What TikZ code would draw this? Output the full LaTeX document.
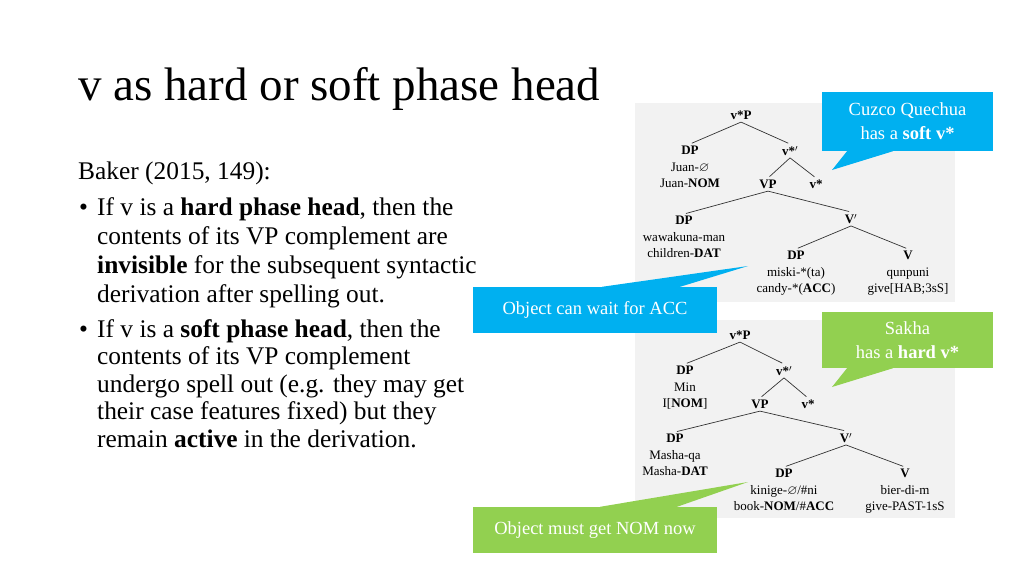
\documentclass[tikz,border=0pt]{standalone}
\usepackage{fontspec}
\setmainfont{Liberation Serif}
\usepackage{amssymb}
\usetikzlibrary{positioning}
\definecolor{noteblue}{HTML}{00B0F0}
\definecolor{notegreen}{HTML}{92D050}
\definecolor{panelgray}{HTML}{F2F2F2}
\newcommand{\nullmark}{\ensuremath{\varnothing}}
\tikzset{
	treelabel/.style={font=\fontsize{13}{16.5}\selectfont, align=center, inner sep=2pt, anchor=north},
	treeedge/.style={line width=0.7pt, color=black!80, shorten >=2pt},
	bodytext/.style={font=\fontsize{25.4}{29}\selectfont, align=left, inner sep=0pt, anchor=base west},
	notebox/.style={font=\fontsize{18.5}{24}\selectfont, text=white, align=center, inner sep=0pt}
}

\begin{document}
\begin{tikzpicture}[x=1pt,y=-1pt]
	\useasboundingbox (0,0) rectangle (1024,576);
	% title and text (multi-line nodes sit on their last baseline)
	\node[font=\fontsize{47}{56}\selectfont, inner sep=0pt, anchor=base west] (title) at (78,100) {v as hard or soft phase head};
	\node[bodytext] (baker) at (78,179) {Baker (2015, 149):};
	\node[bodytext] (dotA) at (79,215) {•};
	\node[bodytext] (pointA) at (97,302) {If v is a \textbf{hard phase head}, then the\\contents of its VP complement are\\\textbf{invisible} for the subsequent syntactic\\derivation after spelling out.};
	\node[bodytext] (dotB) at (79,337) {•};
	\node[bodytext, font=\fontsize{25.4}{27.5}\selectfont] (pointB) at (97,447) {If v is a \textbf{soft phase head}, then the\\contents of its VP complement\\undergo spell out (e.g. they may get\\their case features fixed) but they\\remain \textbf{active} in the derivation.};

	% panels
	\fill[panelgray] (635,103) rectangle (955,302);
	\fill[panelgray] (635,320) rectangle (955,518);

	% Cuzco Quechua tree
	\node[treelabel] (rootA) at (741,109) {\textbf{v*P}};
	\node[treelabel] (specA) at (690,144) {\textbf{DP}\\Juan-\nullmark\\Juan-\textbf{NOM}};
	\node[treelabel] (vbarA) at (790,144) {\textbf{v*}$'$};
	\node[treelabel] (vpA) at (768,178) {\textbf{VP}};
	\node[treelabel] (vheadA) at (816,178) {\textbf{v*}};
	\node[treelabel] (datA) at (684,214) {\textbf{DP}\\wawakuna-man\\children-\textbf{DAT}};
	\node[treelabel] (vcompA) at (851,212) {\textbf{V}$'$};
	\node[treelabel] (objA) at (796,249) {\textbf{DP}\\miski-*(ta)\\candy-*(\textbf{ACC})};
	\node[treelabel] (verbA) at (908,249) {\textbf{V}\\qunpuni\\give[HAB;3sS]};
	\draw[treeedge] (rootA.south) -- (specA.north);
	\draw[treeedge] (rootA.south) -- (vbarA.north);
	\draw[treeedge] (vbarA.south) -- (vpA.north);
	\draw[treeedge] (vbarA.south) -- (vheadA.north);
	\draw[treeedge] (vpA.south) -- (datA.north);
	\draw[treeedge] (vpA.south) -- (vcompA.north);
	\draw[treeedge] (vcompA.south) -- (objA.north);
	\draw[treeedge] (vcompA.south) -- (verbA.north);

	% Sakha tree
	\node[treelabel] (rootB) at (740,329) {\textbf{v*P}};
	\node[treelabel] (specB) at (685,364) {\textbf{DP}\\Min\\I[\textbf{NOM}]};
	\node[treelabel] (vbarB) at (784,364) {\textbf{v*}$'$};
	\node[treelabel] (vpB) at (760,398) {\textbf{VP}};
	\node[treelabel] (vheadB) at (808,398) {\textbf{v*}};
	\node[treelabel] (datB) at (675,432) {\textbf{DP}\\Masha-qa\\Masha-\textbf{DAT}};
	\node[treelabel] (vcompB) at (846,431) {\textbf{V}$'$};
	\node[treelabel] (objB) at (784,467) {\textbf{DP}\\kinige-\nullmark/\#ni\\book-\textbf{NOM}/\#\textbf{ACC}};
	\node[treelabel] (verbB) at (905,467) {\textbf{V}\\bier-di-m\\give-PAST-1sS};
	\draw[treeedge] (rootB.south) -- (specB.north);
	\draw[treeedge] (rootB.south) -- (vbarB.north);
	\draw[treeedge] (vbarB.south) -- (vpB.north);
	\draw[treeedge] (vbarB.south) -- (vheadB.north);
	\draw[treeedge] (vpB.south) -- (datB.north);
	\draw[treeedge] (vpB.south) -- (vcompB.north);
	\draw[treeedge] (vcompB.south) -- (objB.north);
	\draw[treeedge] (vcompB.south) -- (verbB.north);

	% callouts
	\node[notebox, fill=noteblue, minimum width=171pt, minimum height=59pt] (softnote) at (907.5,121.5) {Cuzco Quechua\\has a \textbf{soft v*}};
	\coordinate (softtip) at (832,170);
	\fill[noteblue] ([xshift=-60.5pt]softnote.south) -- (softtip) -- ([xshift=-14.5pt]softnote.south) -- cycle;

	\node[notebox, fill=notegreen, minimum width=171pt, minimum height=56pt] (hardnote) at (907.5,340) {Sakha\\has a \textbf{hard v*}};
	\coordinate (hardtip) at (832,387);
	\fill[notegreen] ([xshift=-60.5pt]hardnote.south) -- (hardtip) -- ([xshift=-14.5pt]hardnote.south) -- cycle;

	\node[notebox, fill=noteblue, minimum width=244pt, minimum height=46pt] (waitnote) at (595,310) {Object can wait for ACC};
	\coordinate (waittip) at (748,266);
	\fill[noteblue] ([xshift=7pt]waitnote.north) -- (waittip) -- ([xshift=85pt]waitnote.north) -- cycle;

	\node[notebox, fill=notegreen, minimum width=244pt, minimum height=46pt] (nomnote) at (595,530) {Object must get NOM now};
	\coordinate (nomtip) at (748,482);
	\fill[notegreen] ([xshift=5pt]nomnote.north) -- (nomtip) -- ([xshift=82pt]nomnote.north) -- cycle;
\end{tikzpicture}
\end{document}
